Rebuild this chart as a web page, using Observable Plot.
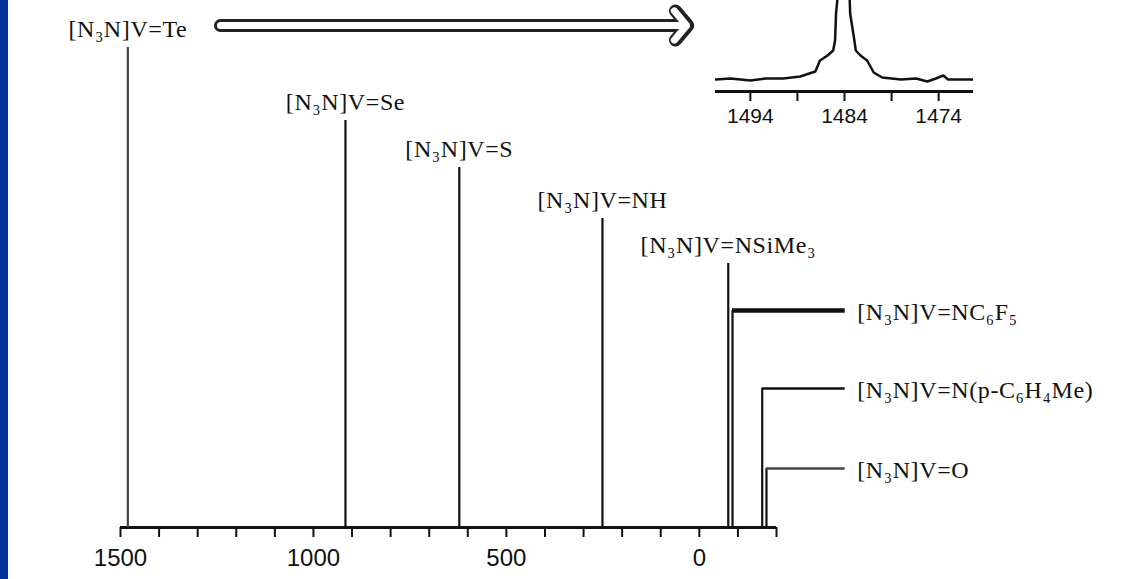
<!DOCTYPE html>
<html>
<head>
<meta charset="utf-8">
<script src="https://cdn.jsdelivr.net/npm/d3@7"></script>
<script src="https://cdn.jsdelivr.net/npm/@observablehq/plot@0.6"></script>
<style>
html, body { margin: 0; padding: 0; background: #fff; }
#wrap { position: relative; width: 1126px; height: 579px; overflow: hidden; background: #fff; }
#band { position: absolute; left: 0; top: 0; width: 8px; height: 579px; background: #003399; }
#main { position: absolute; left: 0; top: 0; }
#inset { position: absolute; left: 700px; top: 0; }
#main g[aria-label="text"] text { letter-spacing: 0.6px; }
</style>
</head>
<body>
<div id="wrap"><div id="band"></div><div id="main"></div><div id="inset"></div></div>
<script>
// ---- data (51V chemical shifts, ppm) ----
const compounds = [
  "[N₃N]V=Te", "[N₃N]V=Se", "[N₃N]V=S", "[N₃N]V=NH", "[N₃N]V=NSiMe₃",
  "[N₃N]V=NC₆F₅", "[N₃N]V=N(p-C₆H₄Me)", "[N₃N]V=O"
];
const shifts = [1481, 917, 622, 251, -75, -86, -163, -174];
const lineHeights = [96, 81.4, 72, 61.8, 52.8, 43.4, 27.8, 11.8];
const labelSide = ["top", "top", "top", "top", "top", "right", "right", "right"];
const labelEnd = -378;            // where the leader lines of the side labels end
const xTicks = d3.range(1500, -201, -100);
const xTickLabels = [1500, 1000, 500, 0];
const arrowFrom = 1241, arrowTo = 30, arrowLevel = 100.4;

// inset: Te resonance
const specPpm = [1497.7, 1496.1, 1494.0, 1492.4, 1490.5, 1488.7, 1487.1, 1486.6, 1485.8, 1485.2, 1485.0, 1484.9, 1484.6, 1484.0,
  1483.5, 1483.4, 1483.0, 1482.8, 1482.3, 1481.6, 1480.9, 1480.0, 1478.0, 1476.4, 1475.2, 1474.3, 1473.5, 1473.0, 1471.7, 1470.3];
const specInt = [0, 1, -1, 1, 1, 3, 8, 19, 24, 29, 39, 66, 95, 120,
  95, 66, 42, 29, 24, 19, 7, 2, 0, 1, -2, 1, 4, 0, 0, 0];
const insetTicks = [1494, 1489, 1484, 1479, 1474];
const insetTickLabels = [1494, 1484, 1474];

// ---- tables ----
const rows = compounds.map((name, i) => ({name, shift: shifts[i], top: lineHeights[i], side: labelSide[i]}));
const topRows = rows.filter(d => d.side === "top");
const sideRows = rows.filter(d => d.side === "right");
const spectrum = specPpm.map((p, i) => ({ppm: p, intensity: specInt[i]}));
const arrowData = [{x1: arrowFrom, x2: arrowTo, y: arrowLevel}];

const serif = "'Liberation Serif', 'Times New Roman', serif";
const sans = "'Liberation Sans', Arial, sans-serif";

const main = Plot.plot({
  width: 1126, height: 579,
  marginLeft: 120, marginRight: 350, marginTop: 27, marginBottom: 52,
  x: {domain: [1500, -200], axis: null},
  y: {domain: [0, 100], axis: null},
  style: {background: "transparent", fontFamily: sans, fontSize: "24px", color: "#111"},
  marks: [
    Plot.ruleY([0], {stroke: "#111", strokeWidth: 3}),
    Plot.axisX({ticks: xTicks, tickSize: 10, tickPadding: 11, strokeWidth: 2, label: null,
      tickFormat: d => xTickLabels.includes(d) ? String(d) : "", fontSize: 24, fill: "#111"}),
    Plot.ruleX(rows, {x: "shift", y1: 0, y2: "top",
      stroke: d => d.shift > 1000 ? "#444" : "#111", strokeWidth: 2.2}),
    Plot.ruleY(sideRows, {y: "top", x1: "shift", x2: labelEnd,
      stroke: d => d.shift < -170 ? "#444" : "#111", strokeWidth: d => d.shift > -100 ? 4.5 : 2.5}),
    Plot.text(topRows, {x: "shift", y: "top", text: "name", dy: -18,
      fontFamily: serif, fontSize: 24, fill: "#111"}),
    Plot.text(sideRows, {x: () => labelEnd, y: "top", text: "name", dx: 12, dy: 2, textAnchor: "start",
      fontFamily: serif, fontSize: 24, fill: "#111"}),
    Plot.arrow(arrowData, {x1: "x1", x2: "x2", y1: "y", y2: "y", stroke: "#222", strokeWidth: 13,
      headLength: 2.2, headAngle: 100}),
    Plot.arrow(arrowData, {x1: "x1", x2: d => d.x2 + 3, y1: "y", y2: "y", stroke: "#fff", strokeWidth: 7,
      headLength: 4.1, headAngle: 100})
  ]
});
document.getElementById("main").appendChild(main);

const inset = Plot.plot({
  width: 300, height: 130,
  marginLeft: 15, marginRight: 27, marginTop: 0, marginBottom: 39,
  x: {domain: [1497.7, 1470.3], axis: null},
  y: {domain: [-12, 79], axis: null},
  style: {background: "transparent", fontFamily: sans, fontSize: "21px", color: "#111"},
  marks: [
    Plot.line(spectrum, {x: "ppm", y: "intensity", stroke: "#111", strokeWidth: 2.5, clip: true}),
    Plot.ruleY([-12], {stroke: "#111", strokeWidth: 3}),
    Plot.axisX({ticks: insetTicks, tickSize: 10, tickPadding: 7, strokeWidth: 2, label: null,
      tickFormat: d => insetTickLabels.includes(d) ? String(d) : "", fontSize: 21, fill: "#111"})
  ]
});
document.getElementById("inset").appendChild(inset);
</script>
</body>
</html>
